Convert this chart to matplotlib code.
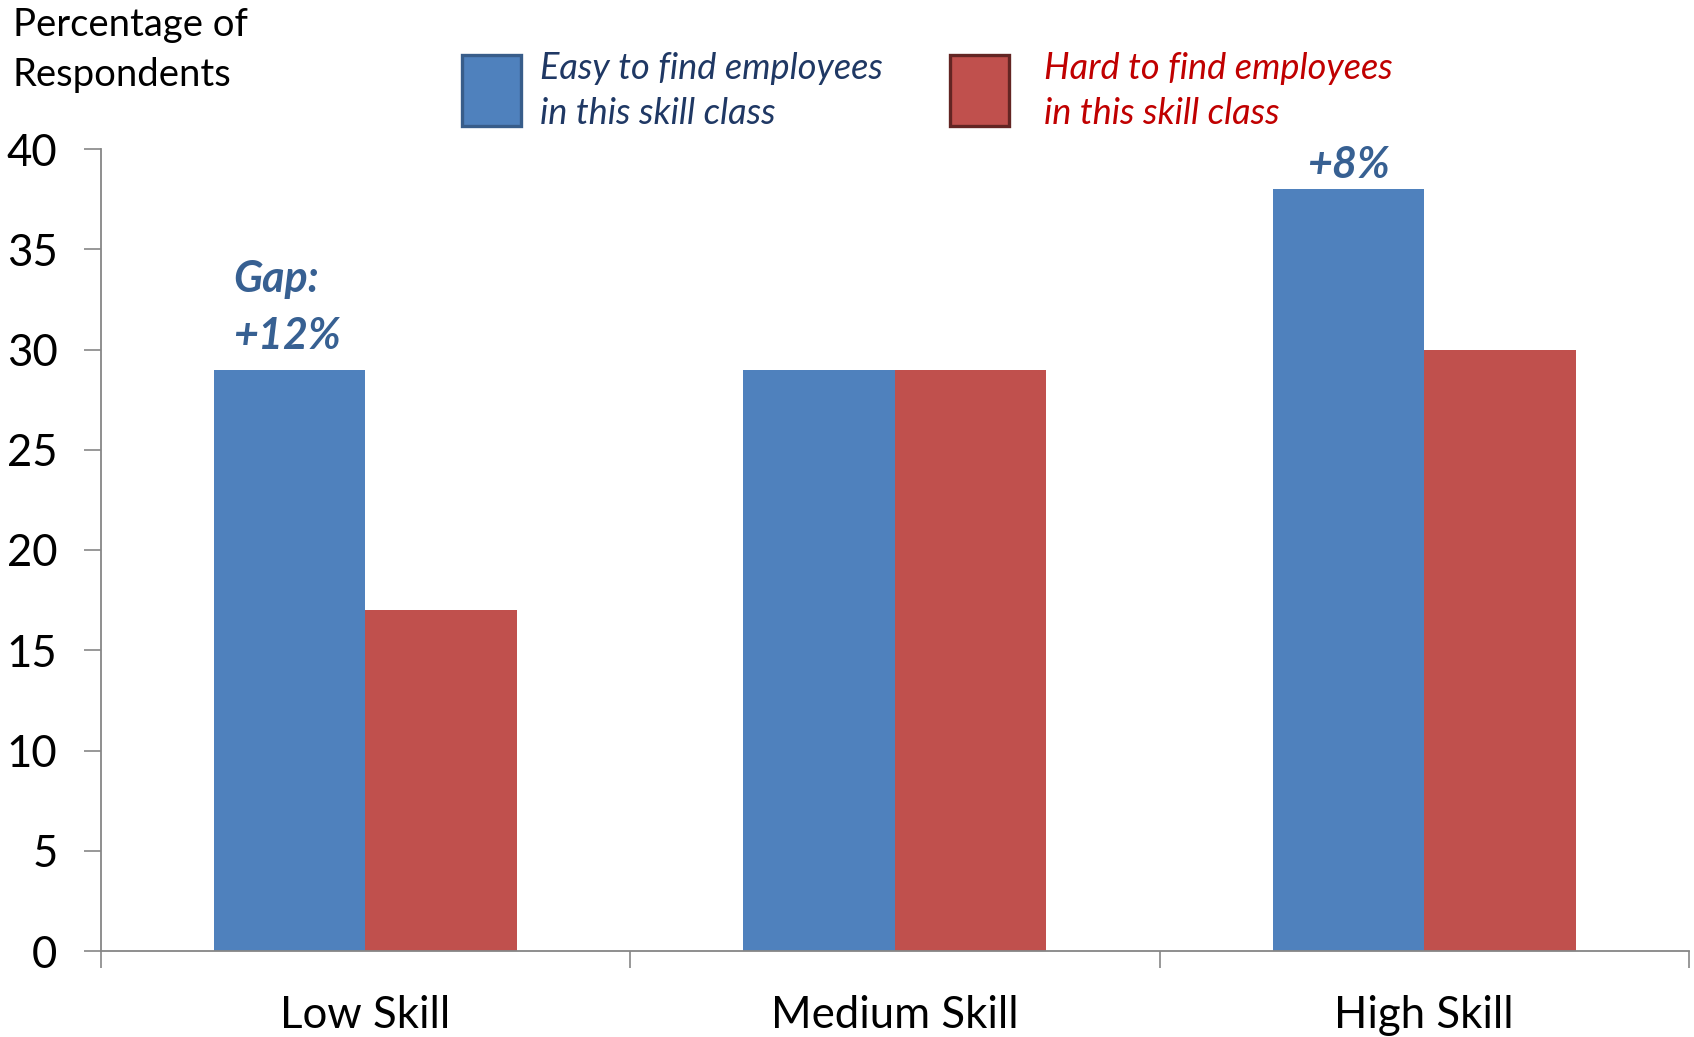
import matplotlib
matplotlib.use("Agg")
import matplotlib.pyplot as plt
import numpy as np
from matplotlib.patches import Rectangle

plt.rcParams["font.family"] = ["Lato", "DejaVu Sans"]

categories = ["Low Skill", "Medium Skill", "High Skill"]
easy_vals = [29, 29, 38]
hard_vals = [17, 29, 30]
series_labels = ["Easy to find employees\nin this skill class",
                 "Hard to find employees\nin this skill class"]
y_ticks = [0, 5, 10, 15, 20, 25, 30, 35, 40]

BLUE = "#4f81bd"
RED = "#c0504d"
AXIS_GREY = "#868686"
NOTE_BLUE = "#376092"

W_PX, H_PX = 1694, 1037
fig = plt.figure(figsize=(W_PX / 100, H_PX / 100), dpi=100)
ax = fig.add_axes([100.5 / W_PX, 1 - 951 / H_PX,
                   (1689 - 100.5) / W_PX, (951 - 149) / H_PX])

x = np.arange(len(categories))
bw = 0.2857
ax.bar(x - bw / 2, easy_vals, bw, color=BLUE, zorder=2)
ax.bar(x + bw / 2, hard_vals, bw, color=RED, zorder=2)

ax.set_xlim(-0.5, 2.5)
ax.set_ylim(0, 40)
ax.set_yticks(y_ticks)
ax.set_xticks(x)
ax.set_xticklabels(categories, fontsize=31.5)
ax.tick_params(axis="x", length=0, pad=32)
# category separators on the x axis
ax.set_xticks(np.arange(-0.5, 3.0, 1.0), minor=True)
ax.tick_params(axis="x", which="minor", length=12, width=1.2, color=AXIS_GREY,
               direction="out")
ax.tick_params(axis="y", length=12, width=1.2, color=AXIS_GREY,
               labelsize=31.5, pad=19)

for side in ("top", "right"):
    ax.spines[side].set_visible(False)
for side in ("left", "bottom"):
    ax.spines[side].set_color(AXIS_GREY)
    ax.spines[side].set_linewidth(1.3)

# gap call-outs
gap_low = easy_vals[0] - hard_vals[0]
gap_high = easy_vals[2] - hard_vals[2]
ax.text(-0.25, 32.1, f"Gap:\n+{gap_low}%", ha="left", va="center",
        fontsize=31, fontweight="bold", fontstyle="italic", color=NOTE_BLUE,
        linespacing=1.5)
ax.text(2 - bw / 2, 38.2, f"+{gap_high}%", ha="center", va="bottom",
        fontsize=31, fontweight="bold", fontstyle="italic", color=NOTE_BLUE)

# y-axis title
fig.text(13 / W_PX, 1 - 50 / H_PX, "Percentage of\nRespondents",
         ha="left", va="center", fontsize=27.5, linespacing=1.45)

# hand-placed legend
def legend_entry(px_left, px_right, text_px, label, face, edge, tcolor):
    fig.add_artist(Rectangle((px_left / W_PX, 1 - 126 / H_PX),
                             (px_right - px_left) / W_PX, 71 / H_PX,
                             transform=fig.transFigure, facecolor=face,
                             edgecolor=edge, linewidth=2.4))
    fig.text(text_px / W_PX, 1 - 91 / H_PX, label, ha="left", va="center",
             fontsize=26, fontstyle="italic", color=tcolor, linespacing=1.45)

legend_entry(462, 521, 540, series_labels[0], BLUE, "#385d8a", "#1f3864")
legend_entry(950, 1009, 1044, series_labels[1], RED, "#632523", "#c00000")

fig.savefig("out.png", dpi=100, facecolor="white")
